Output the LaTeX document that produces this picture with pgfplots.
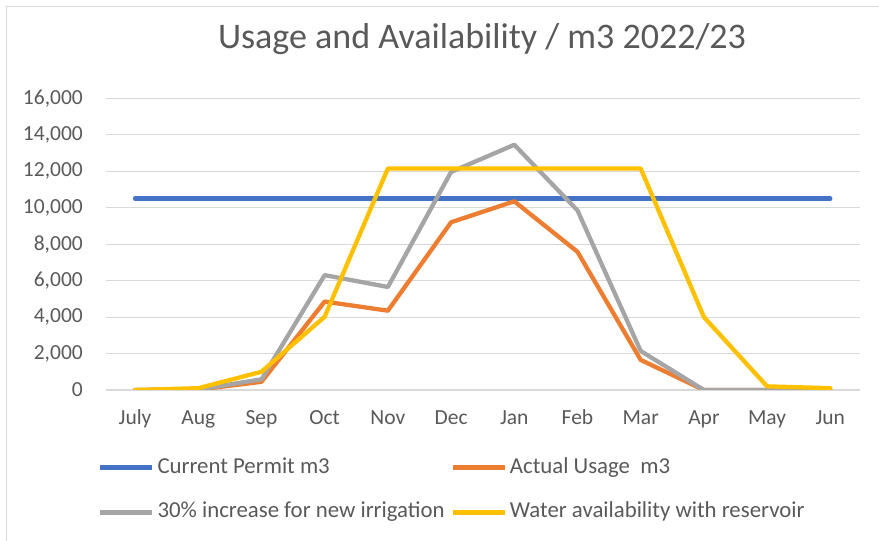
\documentclass[border=0pt]{standalone}
\usepackage{pgfplots}
\pgfplotsset{compat=1.18}
\usepackage{fontspec}
\setmainfont{Carlito}
\definecolor{cblue}{HTML}{4472C4}
\definecolor{corange}{HTML}{ED7D31}
\definecolor{cgray}{HTML}{A5A5A5}
\definecolor{cyellow}{HTML}{FFC000}
\definecolor{ctext}{HTML}{595959}
\definecolor{cgrid}{HTML}{D9D9D9}
\begin{document}
\begin{tikzpicture}
\useasboundingbox (0pt,0pt) rectangle (879pt,541pt);
\draw[color=cgrid,line width=1.2pt] (6.5pt,0pt) -- (6.5pt,534.5pt) -- (879pt,534.5pt);
\node[anchor=base,text=ctext,font=\fontsize{36}{42}\selectfont,inner sep=0pt] at (482pt,492pt) {Usage and Availability / m3 2022/23};
\begin{axis}[
  at={(106pt,151pt)}, anchor=south west,
  scale only axis, width=754pt, height=291.7pt,
  xmin=-0.46, xmax=11.47, ymin=0, ymax=16000,
  axis line style={draw=none},
  ytick={0,2000,...,16000},
  xtick={0,...,11},
  xticklabels={July,Aug,Sep,Oct,Nov,Dec,Jan,Feb,Mar,Apr,May,Jun},
  major tick length=0pt,
  ymajorgrids, major grid style={color=cgrid,line width=1.1pt},
  scaled y ticks=false,
  /pgf/number format/.cd, 1000 sep={,}, assume math mode=true, /pgfplots/.cd,
  tick label style={text=ctext,font=\fontsize{21.5}{25}\selectfont,inner sep=0pt},
  yticklabel style={anchor=east,xshift=-23pt},
  xticklabel style={anchor=base,yshift=-35pt},
  every axis plot/.append style={line width=4.3pt,line join=round,line cap=round},
  legend columns=2,
  legend cell align=left,
  legend image code/.code={\draw[#1,line cap=butt] (0pt,0pt) -- (52pt,0pt);},
  legend style={at={(axis description cs:-0.0106,-0.229)},anchor=north west,
    draw=none,fill=none,inner sep=0pt,
    font=\fontsize{22.8}{26}\selectfont,text=ctext,
    nodes={inner sep=0pt,text height=16pt,text depth=5pt},
    row sep=24pt,
    /tikz/every odd column/.append style={column sep=3pt},
    /tikz/every even column/.append style={column sep=6pt}},
]
\addplot[cblue] coordinates {(0,10500) (1,10500) (2,10500) (3,10500) (4,10500) (5,10500) (6,10500) (7,10500) (8,10500) (9,10500) (10,10500) (11,10500)};
\addlegendentry{Current Permit m3}
\addplot[corange] coordinates {(0,0) (1,20) (2,450) (3,4850) (4,4350) (5,9200) (6,10350) (7,7580) (8,1650) (9,0) (10,0) (11,0)};
\addlegendentry{Actual Usage\ \ m3}
\addplot[cgray] coordinates {(0,0) (1,26) (2,585) (3,6300) (4,5650) (5,11960) (6,13450) (7,9850) (8,2140) (9,0) (10,0) (11,0)};
\addlegendentry{30\% increase for new irrigation}
\addplot[cyellow] coordinates {(0,0) (1,100) (2,1000) (3,4020) (4,12150) (5,12150) (6,12150) (7,12150) (8,12150) (9,4000) (10,200) (11,100)};
\addlegendentry{Water availability with reservoir}
\end{axis}
\end{tikzpicture}
\end{document}
